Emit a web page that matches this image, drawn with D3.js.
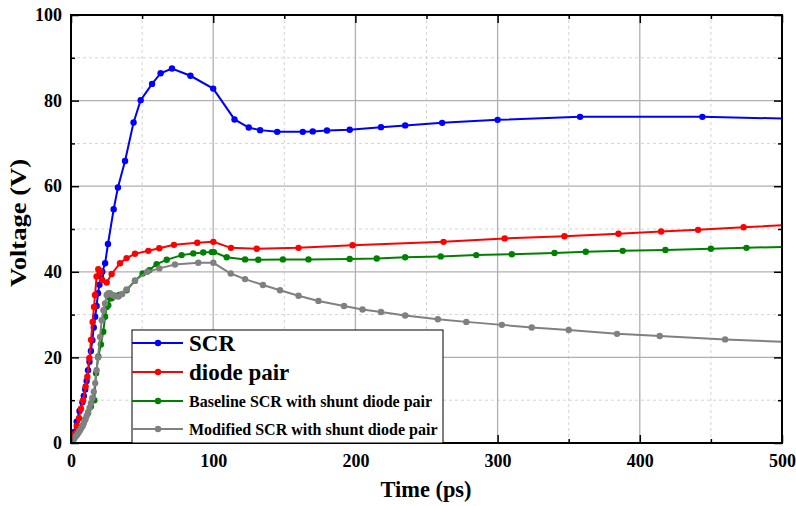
<!DOCTYPE html>
<html>
<head>
<meta charset="utf-8">
<script src="https://cdn.jsdelivr.net/npm/d3@7"></script>
<style>
  body { margin: 0; background: #fff; }
  svg { display: block; }
  text { font-family: "Liberation Serif", "Times New Roman", serif; font-weight: bold; }
</style>
</head>
<body>
<script>
// data (time in ps, voltage in V)
var scrTime = [0, 2, 4, 6, 8, 9, 10, 11, 12, 13, 14, 15, 16, 17, 18, 19, 20, 21, 22, 24, 26, 30, 33, 38, 44, 49, 57, 63, 71, 84, 100, 115, 125, 133, 145, 163, 170, 180, 196, 218, 235, 261, 300, 358, 444, 530]
var scrVolt = [1, 2.5, 5, 7.5, 9.5, 11, 12.5, 14.5, 17, 19, 21.5, 24, 27, 29.5, 32, 35, 37, 39, 40, 42, 46.5, 54.6, 59.7, 65.9, 74.9, 80.1, 83.9, 86.4, 87.5, 85.8, 82.8, 75.6, 73.7, 73.1, 72.7, 72.7, 72.8, 73.0, 73.2, 73.8, 74.2, 74.8, 75.5, 76.2, 76.2, 75.6]

var diodeTime = [0, 2, 4, 5.6, 7, 8.5, 10.3, 11.5, 12.9, 14.1, 15.2, 16.2, 16.9, 18, 19.2, 20.9, 22, 25.1, 28.6, 34.5, 39.1, 45, 54.4, 62.1, 72.4, 88.8, 100.1, 112.5, 130.6, 160, 198, 262, 305, 347, 385, 415, 441, 473, 520]
var diodeVolt = [0.5, 2, 4, 5.8, 8, 10, 13.2, 15.5, 19.8, 24.1, 28.3, 31.8, 34.6, 38.9, 40.6, 40, 38.1, 37.5, 39.5, 42, 43.2, 44.2, 44.9, 45.5, 46.3, 46.8, 47.0, 45.6, 45.4, 45.6, 46.2, 47.0, 47.8, 48.3, 48.9, 49.4, 49.8, 50.4, 51.2]

var baseTime = [0, 2, 4, 6, 8, 10, 12, 14, 16.4, 17.6, 19.2, 21, 22.7, 24, 25.1, 26.2, 27.4, 28.6, 31, 34, 39.1, 45, 50.4, 55.1, 60.2, 67.3, 77.8, 86, 93, 99, 100.5, 109.5, 122.4, 131.7, 149, 167, 196, 215, 235, 260, 285, 310, 340, 362, 388, 418, 450, 475, 520]
var baseVolt = [0.5, 1, 2, 3, 4, 5.5, 7, 8.5, 10, 16.3, 20.2, 23, 26, 29.5, 31.8, 32.2, 33.8, 33.8, 34.4, 34.6, 35.7, 37.9, 39.6, 40.4, 41.8, 42.8, 43.9, 44.3, 44.5, 44.6, 44.6, 43.4, 42.9, 42.8, 42.9, 42.9, 43.0, 43.1, 43.4, 43.6, 43.9, 44.1, 44.4, 44.7, 44.9, 45.1, 45.4, 45.6, 46.0]

var modTime = [0, 1, 2, 3, 4, 5, 6, 7, 8, 9, 10, 11, 12, 13, 14, 15, 16, 17, 18, 19, 20.4, 21.6, 22.8, 23.9, 25.1, 26.3, 27.4, 29, 31, 33.3, 36, 39.1, 45, 53.7, 62.1, 73.1, 89.5, 100.1, 112.3, 122.4, 135, 147, 160, 174, 192, 205, 218, 235, 258, 278, 303, 324, 350, 384, 414, 460, 520]
var modVolt = [0.3, 0.6, 1, 1.4, 1.8, 2.3, 2.8, 3.4, 4, 4.7, 5.5, 6.3, 7.2, 8.2, 9.3, 10.5, 12, 14, 17, 20, 24.8, 28.7, 31, 32.6, 34.6, 35, 35, 34.6, 34.3, 34.2, 34.8, 35.9, 37.9, 40, 40.8, 41.7, 42.1, 42.1, 39.6, 38.3, 36.9, 35.7, 34.4, 33.2, 32.0, 31.2, 30.6, 29.8, 28.9, 28.3, 27.6, 27.0, 26.4, 25.5, 25.0, 24.2, 23.4]

var seriesNames = ["SCR", "diode pair", "Baseline SCR with shunt diode pair", "Modified SCR with shunt diode pair"]
var seriesColors = ["#0000ff", "#ff0000", "#008000", "#808080"]
var xTicks = [0, 100, 200, 300, 400, 500]
var yTicks = [0, 20, 40, 60, 80, 100]

var width = 796, height = 506
var margin = {left: 71, right: 14, top: 15, bottom: 63}

var svg = d3.select("body").append("svg")
	.attr("width", width)
	.attr("height", height)

var x = d3.scaleLinear().domain([0, 500]).range([margin.left, width - margin.right])
var y = d3.scaleLinear().domain([0, 100]).range([height - margin.bottom, margin.top])

var x0 = x.range()[0], x1 = x.range()[1]
var y0 = y.range()[0], y1 = y.range()[1]

// grid: minor dashed first, major solid on top
var minorX = d3.range(50, 500, 100), minorY = d3.range(10, 100, 20)
var grid = svg.append("g")
grid.selectAll(".mx").data(minorX).enter().append("line")
	.attr("x1", d => x(d)).attr("x2", d => x(d)).attr("y1", y0).attr("y2", y1)
	.attr("stroke", "#d4d4d4").attr("stroke-dasharray", "3,3")
grid.selectAll(".my").data(minorY).enter().append("line")
	.attr("y1", d => y(d)).attr("y2", d => y(d)).attr("x1", x0).attr("x2", x1)
	.attr("stroke", "#d4d4d4").attr("stroke-dasharray", "3,3")
grid.selectAll(".gx").data(xTicks.slice(1, -1)).enter().append("line")
	.attr("x1", d => x(d)).attr("x2", d => x(d)).attr("y1", y0).attr("y2", y1)
	.attr("stroke", "#b0b0b0").attr("stroke-width", 1.3)
grid.selectAll(".gy").data(yTicks.slice(1, -1)).enter().append("line")
	.attr("y1", d => y(d)).attr("y2", d => y(d)).attr("x1", x0).attr("x2", x1)
	.attr("stroke", "#b0b0b0").attr("stroke-width", 1.3)

svg.append("clipPath").attr("id", "plotclip").append("rect")
	.attr("x", x0).attr("y", y1).attr("width", x1 - x0).attr("height", y0 - y1)

var series = [
	{time: scrTime, volt: scrVolt},
	{time: diodeTime, volt: diodeVolt},
	{time: baseTime, volt: baseVolt},
	{time: modTime, volt: modVolt}
]

var line = d3.line().x(d => x(d[0])).y(d => y(d[1]))
var plot = svg.append("g").attr("clip-path", "url(#plotclip)")

series.forEach(function(s, i) {
	var pts = s.time.map((t, j) => [t, s.volt[j]])
	plot.append("path").datum(pts)
		.attr("d", line)
		.attr("fill", "none")
		.attr("stroke", seriesColors[i])
		.attr("stroke-width", 2)
	plot.selectAll(".p" + i).data(pts).enter().append("circle")
		.attr("cx", d => x(d[0])).attr("cy", d => y(d[1]))
		.attr("r", 3.2)
		.attr("fill", seriesColors[i])
})

// axes with inward ticks on all four sides
function ticksIn(axisFn, scale) {
	return axisFn(scale).tickSizeInner(-8).tickSizeOuter(0).tickPadding(11)
}
var xAxis = svg.append("g").attr("transform", "translate(0," + y0 + ")")
	.call(ticksIn(d3.axisBottom, x).tickValues(xTicks).tickFormat(d3.format("d")))
var yAxis = svg.append("g").attr("transform", "translate(" + x0 + ",0)")
	.call(ticksIn(d3.axisLeft, y).tickValues(yTicks).tickFormat(d3.format("d")))
svg.append("g").attr("transform", "translate(0," + y1 + ")")
	.call(d3.axisTop(x).tickValues(xTicks).tickSizeInner(-8).tickSizeOuter(0).tickFormat(""))
svg.append("g").attr("transform", "translate(" + x1 + ",0)")
	.call(d3.axisRight(y).tickValues(yTicks).tickSizeInner(-8).tickSizeOuter(0).tickFormat(""))

// minor ticks
svg.append("g").attr("transform", "translate(0," + y0 + ")")
	.call(d3.axisBottom(x).tickValues(minorX).tickSizeInner(-4).tickSizeOuter(0).tickFormat(""))
svg.append("g").attr("transform", "translate(0," + y1 + ")")
	.call(d3.axisTop(x).tickValues(minorX).tickSizeInner(-4).tickSizeOuter(0).tickFormat(""))
svg.append("g").attr("transform", "translate(" + x0 + ",0)")
	.call(d3.axisLeft(y).tickValues(minorY).tickSizeInner(-4).tickSizeOuter(0).tickFormat(""))
svg.append("g").attr("transform", "translate(" + x1 + ",0)")
	.call(d3.axisRight(y).tickValues(minorY).tickSizeInner(-4).tickSizeOuter(0).tickFormat(""))

svg.selectAll(".domain").remove()
svg.selectAll(".tick line").attr("stroke", "#000").attr("stroke-width", 1.5)
svg.selectAll(".tick text").attr("font-size", 18).attr("fill", "#000")
	.style("font-family", "'Liberation Serif', serif").style("font-weight", "bold")
yAxis.selectAll(".tick text").attr("x", -9)

// frame
svg.append("rect")
	.attr("x", x0).attr("y", y1).attr("width", x1 - x0).attr("height", y0 - y1)
	.attr("fill", "none").attr("stroke", "#000").attr("stroke-width", 2)

// axis titles
svg.append("text")
	.attr("x", 426).attr("y", 497)
	.attr("text-anchor", "middle").attr("font-size", 23)
	.attr("textLength", 91).attr("lengthAdjust", "spacingAndGlyphs")
	.text("Time (ps)")
svg.append("text")
	.attr("transform", "translate(26,223) rotate(-90)")
	.attr("text-anchor", "middle").attr("font-size", 24)
	.attr("textLength", 128).attr("lengthAdjust", "spacingAndGlyphs")
	.text("Voltage (V)")

// legend
var legend = svg.append("g")
legend.append("rect")
	.attr("x", 132).attr("y", 330).attr("width", 311).attr("height", y0 - 330)
	.attr("fill", "#fff").attr("stroke", "#000").attr("stroke-width", 1)
var rowY = [343, 372, 401, 429]
var rowSize = [23, 23, 16, 16]
seriesNames.forEach(function(name, i) {
	legend.append("line")
		.attr("x1", 132).attr("x2", 183).attr("y1", rowY[i]).attr("y2", rowY[i])
		.attr("stroke", seriesColors[i]).attr("stroke-width", 2)
	legend.append("circle")
		.attr("cx", 158).attr("cy", rowY[i]).attr("r", 3.2)
		.attr("fill", seriesColors[i])
	legend.append("text")
		.attr("x", 189).attr("y", rowY[i])
		.attr("dy", "0.35em")
		.attr("font-size", rowSize[i])
		.text(name)
})
</script>
</body>
</html>
